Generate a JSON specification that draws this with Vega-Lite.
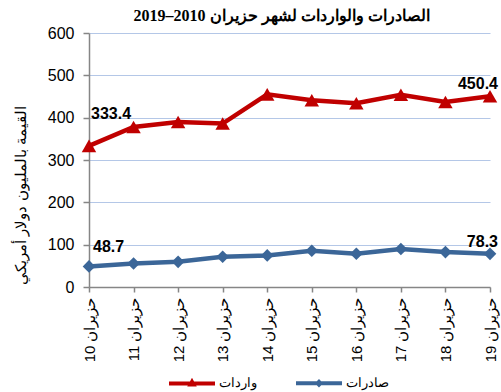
{
  "$schema": "https://vega.github.io/schema/vega-lite/v6.json",
  "width": 401,
  "height": 254,
  "autosize": {"type": "none"},
  "padding": {"left": 89, "top": 33, "right": 11, "bottom": 105},
  "background": "white",
  "title": {
    "text": "‫الصادرات والواردات لشهر حزيران 2010–2019‬",
    "font": "Liberation Serif",
    "fontSize": 16,
    "fontWeight": "bold",
    "color": "black",
    "anchor": "middle",
    "baseline": "bottom",
    "dx": -8,
    "dy": 15,
    "offset": 0
  },
  "data": {
    "values": [
      {"m": 10, "series": "صادرات", "value": 48.7},
      {"m": 11, "series": "صادرات", "value": 55.6},
      {"m": 12, "series": "صادرات", "value": 59.5},
      {"m": 13, "series": "صادرات", "value": 71.4},
      {"m": 14, "series": "صادرات", "value": 74.6},
      {"m": 15, "series": "صادرات", "value": 85.7},
      {"m": 16, "series": "صادرات", "value": 78.6},
      {"m": 17, "series": "صادرات", "value": 89.7},
      {"m": 18, "series": "صادرات", "value": 82.5},
      {"m": 19, "series": "صادرات", "value": 78.3},
      {"m": 10, "series": "واردات", "value": 333.4},
      {"m": 11, "series": "واردات", "value": 378},
      {"m": 12, "series": "واردات", "value": 390},
      {"m": 13, "series": "واردات", "value": 386},
      {"m": 14, "series": "واردات", "value": 455},
      {"m": 15, "series": "واردات", "value": 441},
      {"m": 16, "series": "واردات", "value": 434},
      {"m": 17, "series": "واردات", "value": 454},
      {"m": 18, "series": "واردات", "value": 437},
      {"m": 19, "series": "واردات", "value": 450.4}
    ]
  },
  "encoding": {
    "x": {
      "field": "m",
      "type": "ordinal",
      "scale": {"type": "point", "padding": 0},
      "axis": {
        "title": null,
        "labelAngle": 270,
        "labelAlign": "right",
        "labelBaseline": "middle",
        "labelExpr": "'‫حزيران ' + datum.label + '‬'",
        "labelFont": "Liberation Sans",
        "labelFontSize": 15,
        "labelColor": "black",
        "domainColor": "#868686",
        "domainWidth": 1.5,
        "tickColor": "#868686",
        "tickSize": 5,
        "tickWidth": 1.5,
        "labelPadding": 5,
        "grid": false
      }
    },
    "y": {
      "field": "value",
      "type": "quantitative",
      "scale": {"domain": [0, 600], "nice": false},
      "axis": {
        "values": [0, 100, 200, 300, 400, 500, 600],
        "title": "القيمة بالمليون دولار أمريكي",
        "titleFont": "Liberation Sans",
        "titleFontSize": 15,
        "titleFontWeight": "normal",
        "titleColor": "black",
        "titleAngle": 270,
        "titleX": -69,
        "titleY": 162,
        "titleAlign": "center",
        "titleBaseline": "middle",
        "labelFont": "Liberation Sans",
        "labelFontSize": 16,
        "labelColor": "black",
        "labelPadding": 9,
        "domainColor": "#868686",
        "domainWidth": 1.5,
        "tickColor": "#868686",
        "tickSize": 6,
        "tickWidth": 1.5,
        "grid": true,
        "gridColor": "#B4C7E7",
        "gridWidth": 1.2
      }
    }
  },
  "layer": [
    {
      "mark": {"type": "line", "strokeWidth": 4.5},
      "encoding": {
        "color": {
          "field": "series",
          "type": "nominal",
          "scale": {"domain": ["واردات", "صادرات"], "range": ["#C00000", "#3B6698"]},
          "legend": {
            "orient": "none",
            "legendX": 78,
            "legendY": 325,
            "direction": "horizontal",
            "title": null,
            "symbolType": "M-1,0H1",
            "symbolSize": 2116,
            "symbolStrokeWidth": 4,
            "labelOffset": 2,
            "columnPadding": 31,
            "labelFont": "Liberation Sans",
            "labelFontSize": 13,
            "labelColor": "black",
            "encode": {
              "symbols": {
                "update": {
                  "shape": {"signal": "datum.value === 'واردات' ? 'M-1,0H1M-0.06,0.05L0,-0.06L0.06,0.05Z' : 'M-1,0H1M0,-0.06L0.06,0L0,0.06L-0.06,0Z'"},
                  "fill": {"scale": "color", "field": "value"},
                  "stroke": {"scale": "color", "field": "value"},
                  "strokeWidth": {"value": 4}
                }
              }
            }
          }
        }
      }
    },
    {
      "transform": [{"filter": "datum.series == 'واردات'"}],
      "mark": {"type": "point", "filled": true, "opacity": 1, "size": 210, "shape": "triangle-up"},
      "encoding": {
        "color": {"field": "series", "type": "nominal", "legend": null}
      }
    },
    {
      "transform": [{"filter": "datum.series == 'صادرات'"}],
      "mark": {"type": "point", "filled": true, "opacity": 1, "size": 160, "shape": "diamond"},
      "encoding": {
        "color": {"field": "series", "type": "nominal", "legend": null}
      }
    },
    {
      "transform": [{"filter": "datum.m == 10 && datum.series == 'واردات'"}],
      "mark": {"type": "text", "align": "left", "baseline": "middle", "dx": 2, "dy": -32, "font": "Liberation Sans", "fontSize": 16, "fontWeight": "bold", "color": "black"},
      "encoding": {"text": {"field": "value", "type": "quantitative", "format": ".1f"}}
    },
    {
      "transform": [{"filter": "datum.m == 10 && datum.series == 'صادرات'"}],
      "mark": {"type": "text", "align": "left", "baseline": "middle", "dx": 4, "dy": -19, "font": "Liberation Sans", "fontSize": 16, "fontWeight": "bold", "color": "black"},
      "encoding": {"text": {"field": "value", "type": "quantitative", "format": ".1f"}}
    },
    {
      "transform": [{"filter": "datum.m == 19"}],
      "mark": {"type": "text", "align": "right", "baseline": "middle", "dx": 8, "dy": -12, "font": "Liberation Sans", "fontSize": 16, "fontWeight": "bold", "color": "black"},
      "encoding": {"text": {"field": "value", "type": "quantitative", "format": ".1f"}}
    }
  ],
  "config": {
    "view": {"stroke": null}
  }
}
